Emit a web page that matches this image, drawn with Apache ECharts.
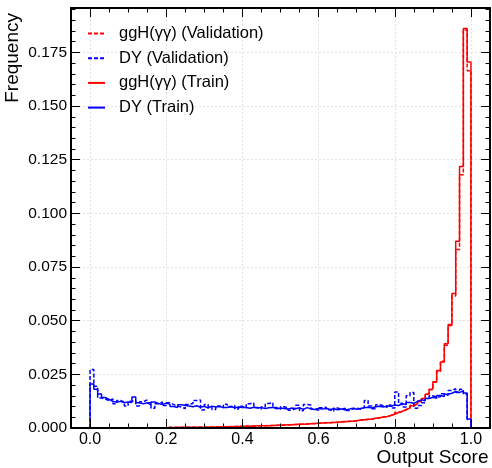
<!DOCTYPE html>
<html><head><meta charset="utf-8">
<script src="https://cdn.jsdelivr.net/npm/echarts@6/dist/echarts.min.js"></script>
<style>html,body{margin:0;padding:0;background:#fff}#c{width:492px;height:468px}</style>
</head><body><div id="c"></div>
<script>
// ---- data ----
const binStart = 0.0, binWidth = 0.01, nBins = 100;
const seriesNames = ['ggH(γγ) (Validation)', 'DY (Validation)', 'ggH(γγ) (Train)', 'DY (Train)'];

const ggHTrain = [
  0,0,0,0,0,0,0,0,0,0,
  0,0,0,0,0,0,0,0,0,0,
  0.0002,0.0002,0.0003,0.0002,0.0003,0.0003,0.0004,0.0003,0.0004,0.0004,
  0.0005,0.0004,0.0005,0.0006,0.0005,0.0006,0.0007,0.0006,0.0007,0.0008,
  0.0008,0.0008,0.0009,0.0010,0.0010,0.0011,0.0011,0.0012,0.0013,0.0013,
  0.0014,0.0015,0.0015,0.0016,0.0017,0.0018,0.0019,0.0020,0.0021,0.0022,
  0.0023,0.0024,0.0025,0.0026,0.0027,0.0028,0.0029,0.0031,0.0032,0.0034,
  0.0036,0.0038,0.0040,0.0042,0.0045,0.0048,0.0051,0.0054,0.0058,0.0064,
  0.0072,0.0078,0.0085,0.0094,0.0104,0.0113,0.0124,0.0138,0.0157,0.0180,
  0.0213,0.0268,0.0308,0.0392,0.0478,0.0627,0.0870,0.1218,0.1862,0.1705
];
const ggHVal = [
  0,0,0,0,0,0,0,0,0,0,
  0,0,0,0,0,0,0,0,0,0,
  0.0003,0.0002,0.0002,0.0003,0.0003,0.0004,0.0003,0.0004,0.0004,0.0005,
  0.0004,0.0005,0.0005,0.0005,0.0006,0.0006,0.0006,0.0007,0.0008,0.0007,
  0.0009,0.0008,0.0009,0.0009,0.0011,0.0010,0.0012,0.0012,0.0012,0.0014,
  0.0014,0.0014,0.0016,0.0016,0.0016,0.0019,0.0018,0.0021,0.0020,0.0023,
  0.0022,0.0025,0.0024,0.0027,0.0026,0.0029,0.0030,0.0030,0.0033,0.0033,
  0.0037,0.0037,0.0041,0.0041,0.0046,0.0047,0.0052,0.0053,0.0059,0.0063,
  0.0073,0.0077,0.0086,0.0093,0.0105,0.0112,0.0126,0.0136,0.0159,0.0178,
  0.0216,0.0263,0.0311,0.0386,0.0482,0.0615,0.0832,0.1180,0.1855,0.1665
];
const dyTrain = [
  0.0205,0.0180,0.0158,0.0142,0.0133,0.0124,0.0120,0.0124,0.0118,0.0121,
  0.0119,0.0145,0.0118,0.0113,0.0117,0.0108,0.0121,0.0114,0.0109,0.0116,
  0.0110,0.0100,0.0096,0.0108,0.0105,0.0103,0.0099,0.0104,0.0097,0.0101,
  0.0093,0.0102,0.0098,0.0100,0.0095,0.0096,0.0099,0.0094,0.0098,0.0095,
  0.0096,0.0092,0.0097,0.0093,0.0095,0.0091,0.0094,0.0096,0.0090,0.0093,
  0.0091,0.0088,0.0093,0.0090,0.0094,0.0087,0.0095,0.0089,0.0086,0.0091,
  0.0088,0.0092,0.0086,0.0090,0.0085,0.0089,0.0084,0.0088,0.0092,0.0087,
  0.0091,0.0094,0.0097,0.0093,0.0099,0.0101,0.0098,0.0103,0.0101,0.0107,
  0.0105,0.0113,0.0109,0.0119,0.0115,0.0124,0.0131,0.0127,0.0137,0.0143,
  0.0139,0.0151,0.0147,0.0157,0.0162,0.0170,0.0165,0.0174,0.0163,0.0042
];
const dyVal = [
  0.0272,0.0195,0.0140,0.0135,0.0128,0.0136,0.0113,0.0128,0.0121,0.0103,
  0.0125,0.0128,0.0103,0.0122,0.0131,0.0118,0.0092,0.0113,0.0121,0.0105,
  0.0118,0.0109,0.0102,0.0098,0.0090,0.0110,0.0114,0.0128,0.0131,0.0084,
  0.0110,0.0098,0.0086,0.0103,0.0094,0.0111,0.0100,0.0105,0.0089,0.0101,
  0.0093,0.0113,0.0117,0.0096,0.0088,0.0099,0.0114,0.0118,0.0095,0.0087,
  0.0099,0.0093,0.0083,0.0092,0.0106,0.0080,0.0110,0.0107,0.0088,0.0083,
  0.0094,0.0097,0.0085,0.0078,0.0093,0.0087,0.0092,0.0081,0.0089,0.0094,
  0.0087,0.0096,0.0128,0.0102,0.0090,0.0108,0.0104,0.0096,0.0107,0.0093,
  0.0168,0.0115,0.0098,0.0150,0.0165,0.0092,0.0105,0.0118,0.0140,0.0150,
  0.0143,0.0146,0.0160,0.0152,0.0175,0.0183,0.0165,0.0180,0.0158,0.0040
];
const xTickLabels = [0.0, 0.2, 0.4, 0.6, 0.8, 1.0];
const xMinorTicks = [0,0.05,0.1,0.15,0.2,0.25,0.3,0.35,0.4,0.45,0.5,0.55,0.6,0.65,0.7,0.75,0.8,0.85,0.9,0.95,1.0];
const yTickLabels = [0, 0.025, 0.05, 0.075, 0.1, 0.125, 0.15, 0.175];
const yMinorTicks = [0,0.005,0.01,0.015,0.02,0.025,0.03,0.035,0.04,0.045,0.05,0.055,0.06,0.065,0.07,0.075,0.08,0.085,0.09,0.095,0.1,0.105,0.11,0.115,0.12,0.125,0.13,0.135,0.14,0.145,0.15,0.155,0.16,0.165,0.17,0.175,0.18,0.185,0.19,0.195];
const X_MIN = -0.05, X_MAX = 1.05, Y_MIN = 0, Y_MAX = 0.1957;

// ---- build ----
const edges = [];
for (let i = 0; i <= nBins; i++) edges.push(+(binStart + i * binWidth).toFixed(4));
function stepData(vals) {
  const pts = [[edges[0], 0]];
  for (let i = 0; i < vals.length; i++) pts.push([edges[i], vals[i]]);
  pts.push([edges[vals.length], vals[vals.length - 1]]);
  pts.push([edges[vals.length], 0]);
  return pts;
}
const FONT = '"Liberation Sans", Arial, Helvetica, sans-serif';
const black = '#000';

function xAx(pos, vals, len, labels, line, split) {
  return {
    type: 'value', position: pos, min: X_MIN, max: X_MAX, z: split ? 0 : 10,
    axisLine: { show: line, onZero: false, lineStyle: { color: black, width: 2 } },
    axisTick: { show: !split, inside: true, length: len, customValues: vals, lineStyle: { color: black, width: 1 } },
    axisLabel: { show: labels, customValues: vals, margin: 4, color: black, fontSize: 16, fontFamily: FONT,
      formatter: v => v.toFixed(1) },
    splitLine: { show: split, lineStyle: { color: '#e3e3e3', width: 1, type: [2, 2] } }
  };
}
function yAx(pos, vals, len, labels, line, split) {
  return {
    type: 'value', position: pos, min: Y_MIN, max: Y_MAX, z: split ? 0 : 10,
    axisLine: { show: line, onZero: false, lineStyle: { color: black, width: 2 } },
    axisTick: { show: !split, inside: true, length: len, customValues: vals, lineStyle: { color: black, width: 1 } },
    axisLabel: { show: labels, customValues: vals, margin: 4, color: black, fontSize: 15.5, fontFamily: FONT,
      formatter: v => v.toFixed(3) },
    splitLine: { show: split, lineStyle: { color: '#e3e3e3', width: 1, type: [2, 2] } }
  };
}

const chart = echarts.init(document.getElementById('c'), null, { renderer: 'canvas' });
const mk = (name, vals, color, dashed) => ({
  name, type: 'line', data: stepData(vals), step: 'end', symbol: 'none', showSymbol: false,
  xAxisIndex: 0, yAxisIndex: 0, animation: false, clip: true,
  lineStyle: { color, width: 1.5, type: dashed ? [4, 2] : 'solid' },
  itemStyle: { color }, emphasis: { disabled: true }
});

chart.setOption({
  animation: false,
  backgroundColor: '#fff',
  grid: { left: 71, right: 2, top: 8, bottom: 40, containLabel: false },
  xAxis: [
    xAx('bottom', xTickLabels, 9, true, true, false),
    xAx('bottom', xMinorTicks, 4.5, false, false, false),
    xAx('top', xTickLabels, 9, false, true, false),
    xAx('top', xMinorTicks, 4.5, false, false, false),
    xAx('bottom', xTickLabels, 0, false, false, true)
  ],
  yAxis: [
    yAx('left', yTickLabels, 9, true, true, false),
    yAx('left', yMinorTicks, 4.5, false, false, false),
    yAx('right', yTickLabels, 9, false, true, false),
    yAx('right', yMinorTicks, 4.5, false, false, false),
    yAx('left', yTickLabels, 0, false, false, true)
  ],
  legend: {
    orient: 'vertical', left: 82, top: 20, itemWidth: 17, itemHeight: 10, itemGap: 7.7,
    data: seriesNames, selectedMode: false,
    itemStyle: { opacity: 0, color: 'rgba(0,0,0,0)', borderWidth: 0 },
    formatter: n => '{g|}' + n,
    textStyle: { color: black, fontSize: 16.5, fontFamily: FONT, lineHeight: 17,
      rich: { g: { width: 9, fontSize: 16.5 } } }
  },
  graphic: [
    { type: 'text', x: 488.5, y: 448, silent: true,
      style: { text: 'Output Score', fill: black, fontSize: 19, fontFamily: FONT, align: 'right', verticalAlign: 'top' } },
    { type: 'text', x: 3.5, y: 13, rotation: Math.PI / 2, silent: true,
      style: { text: 'Frequency', fill: black, fontSize: 19, fontFamily: FONT, align: 'right', verticalAlign: 'top' } }
  ],
  series: [
    mk(seriesNames[0], ggHVal, '#ff0000', true),
    mk(seriesNames[1], dyVal, '#0000ff', true),
    mk(seriesNames[2], ggHTrain, '#ff0000', false),
    mk(seriesNames[3], dyTrain, '#0000ff', false)
  ]
});
</script></body></html>
